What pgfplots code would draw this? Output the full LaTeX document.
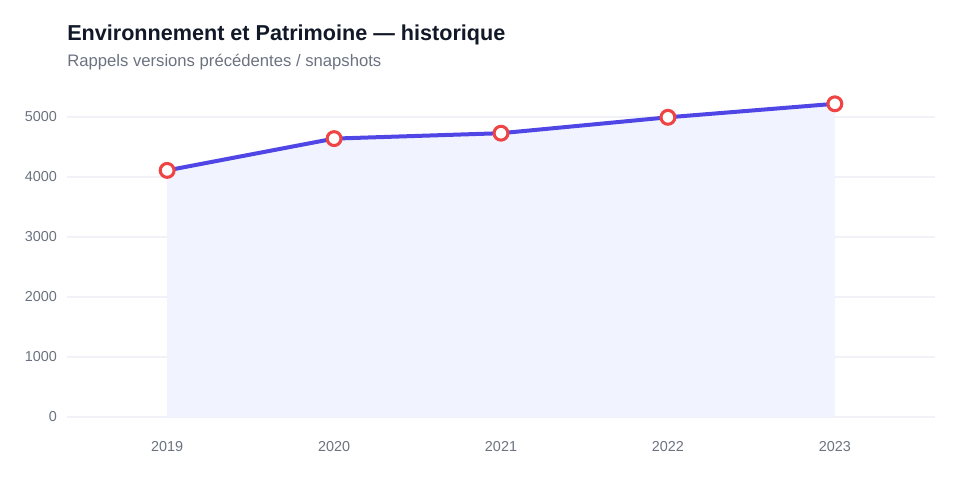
\documentclass[border=0pt]{standalone}
\usepackage{pgfplots}
\pgfplotsset{compat=1.18}
\usepackage{fontspec}
\setmainfont{Liberation Sans}
\definecolor{linec}{HTML}{4F46E5}
\definecolor{markc}{HTML}{EF4444}
\definecolor{fillc}{HTML}{F1F3FE}
\definecolor{gridc}{HTML}{F0F2F7}
\definecolor{tickc}{HTML}{6B7280}
\definecolor{titlec}{HTML}{111827}
\definecolor{subc}{HTML}{6B7280}
\begin{document}
\begin{tikzpicture}
\path[use as bounding box] (0pt,0pt) rectangle (720pt,360pt);
\node[anchor=base west,inner sep=0pt,font=\fontsize{16.2pt}{18pt}\selectfont\bfseries,text=titlec] at (50.25pt,330pt) {Environnement et Patrimoine — historique};
\node[anchor=base west,inner sep=0pt,font=\fontsize{12.5pt}{14pt}\selectfont,text=subc] at (50.25pt,310.5pt) {Rappels versions précédentes / snapshots};
\begin{axis}[
  at={(50.25pt,47.25pt)}, anchor=south west,
  scale only axis, width=651pt, height=247.5pt,
  xmin=2018.4, xmax=2023.6, ymin=0, ymax=5500,
  xtick={2019,2020,2021,2022,2023},
  xticklabels={2019,2020,2021,2022,2023},
  ytick={0,1000,2000,3000,4000,5000},
  axis line style={draw=none},
  major tick length=0pt,
  ymajorgrids, grid style={gridc, line width=1pt},
  tick label style={font=\fontsize{10.8pt}{12pt}\selectfont, text=tickc},
  /pgf/number format/assume math mode=true,
  scaled y ticks=false,
  yticklabel style={/pgf/number format/1000 sep={}, xshift=-4pt},
  xticklabel style={yshift=-14.5pt},
  clip=false,
]
\addplot[fill=fillc, draw=none, forget plot] coordinates {(2019,4110) (2020,4640) (2021,4730) (2022,4995) (2023,5220)} \closedcycle;
\addplot[linec, line width=3pt, mark=*, mark size=5.2pt, mark options={fill=white, draw=markc, line width=2.3pt}] coordinates {(2019,4110) (2020,4640) (2021,4730) (2022,4995) (2023,5220)};
\end{axis}
\end{tikzpicture}
\end{document}
